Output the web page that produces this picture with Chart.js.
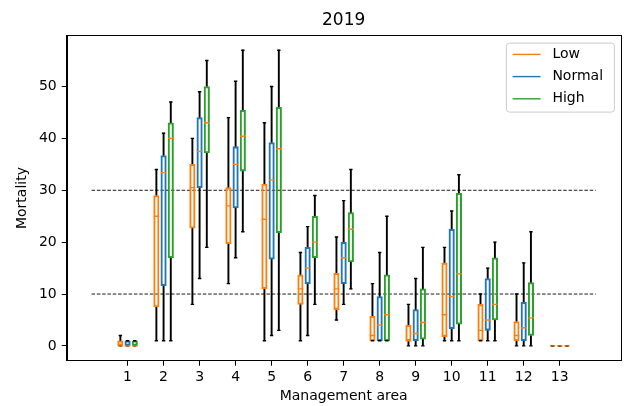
<!DOCTYPE html>
<html>
<head>
<meta charset="utf-8">
<title>2019</title>
<script src="https://cdn.jsdelivr.net/npm/chart.js@4.4.1/dist/chart.umd.min.js"></script>
<style>
  html, body { margin: 0; padding: 0; background: #fff; }
  #wrap { width: 626px; height: 406px; position: relative; }
</style>
</head>
<body>
<div id="wrap"><canvas id="chart"></canvas></div>
<script>
// Management areas (x categories) and y tick labels
const areas = [1, 2, 3, 4, 5, 6, 7, 8, 9, 10, 11, 12, 13];
const yTicks = [0, 10, 20, 30, 40, 50];
const refLines = [10, 30];

// Low
const lowMin = [0, 1, 8, 12, 1, 1, 5, 1, 0, 1, 1, 0, 0];
const lowQ1  = [0, 7.5, 22.7, 19.7, 11, 8, 7, 1, 1, 1.8, 1, 1, 0];
const lowMed = [0, 25, 30.5, 27, 24.4, 11, 11, 2, 1, 6, 3, 2, 0];
const lowQ3  = [1, 29, 35, 30.5, 31.2, 13.7, 14, 5.7, 4, 16, 8, 4.7, 0];
const lowMax = [2, 34, 40, 44, 43, 18, 21, 12, 8, 19, 10, 10, 0];

// Normal
const normalMin = [0, 1, 13, 17, 2, 2, 8, 1, 0, 1, 1, 0, 0];
const normalQ1  = [0, 11.6, 30.5, 26.6, 16.7, 12, 12, 1, 1, 3.3, 3, 1, 0];
const normalMed = [0, 33.4, 37.5, 35, 32, 15, 17, 4, 2.4, 9.5, 5, 3.5, 0];
const normalQ3  = [1, 36.7, 44, 38.4, 39.2, 19, 20, 9.5, 7, 22.5, 13, 8.4, 0];
const normalMax = [1, 41, 49, 51, 50, 23, 28, 18, 13, 26, 15, 16, 0];

// High
const highMin = [0, 1, 19, 22, 3, 8, 11, 1, 0, 1, 1, 0, 0];
const highQ1  = [0, 17, 37.2, 33.7, 21.8, 17, 16.2, 1, 1.3, 4.2, 5, 2, 0];
const highMed = [0, 40, 43, 40.4, 38, 20, 22.5, 6, 4.5, 13.9, 8, 5.4, 0];
const highQ3  = [1, 43, 50, 45.4, 46, 25, 25.7, 13.7, 11, 29.4, 17, 12.2, 0];
const highMax = [1, 47, 55, 57, 57, 29, 34, 25, 19, 33, 20, 22, 0];

const seriesNames = ['Low', 'Normal', 'High'];
const seriesColors = ['#ff7f0e', '#1f77b4', '#2ca02c'];
const medianColor = '#ff7f0e';

const series = [
    { min: lowMin, q1: lowQ1, med: lowMed, q3: lowQ3, max: lowMax, off: -0.2 },
    { min: normalMin, q1: normalQ1, med: normalMed, q3: normalQ3, max: normalMax, off: 0 },
    { min: highMin, q1: highQ1, med: highMed, q3: highQ3, max: highMax, off: 0.2 }
];

// Build datasets
const datasets = [];

// dashed reference lines
refLines.forEach(v => {
    datasets.push({
        type: 'line',
        data: [{ x: 0, y: v }, { x: 14, y: v }],
        borderColor: '#000',
        borderWidth: 0.9,
        borderDash: [3.5, 1.8],
        pointRadius: 0,
        order: 5
    });
});

series.forEach((s, k) => {
    // whiskers
    const whiskers = [];
    areas.forEach((a, i) => {
        whiskers.push({ x: a + s.off, y: [s.min[i], s.q1[i]] });
        whiskers.push({ x: a + s.off, y: [s.q3[i], s.max[i]] });
    });
    datasets.push({
        type: 'bar',
        data: whiskers,
        backgroundColor: '#000',
        borderWidth: 0,
        barThickness: 1.25,
        grouped: false,
        order: 4
    });

    // boxes
    datasets.push({
        type: 'bar',
        label: seriesNames[k],
        data: areas.map((a, i) => ({ x: a + s.off, y: [s.q1[i], s.q3[i]] })),
        backgroundColor: 'rgba(255,255,255,0)',
        borderColor: seriesColors[k],
        borderWidth: 1.4,
        borderSkipped: false,
        barThickness: 5.5,
        grouped: false,
        order: 3
    });

    // caps
    const caps = [];
    areas.forEach((a, i) => {
        caps.push({ x: a + s.off, y: s.min[i] });
        caps.push({ x: a + s.off, y: s.max[i] });
    });
    datasets.push({
        type: 'line',
        data: caps,
        showLine: false,
        pointStyle: 'line',
        pointRadius: 1.7,
        pointBorderColor: '#000',
        pointBorderWidth: 1.4,
        order: 2
    });

    // medians
    datasets.push({
        type: 'line',
        data: areas.map((a, i) => ({ x: a + s.off, y: s.med[i] })),
        showLine: false,
        pointStyle: 'line',
        pointRadius: 2.75,
        pointBorderColor: medianColor,
        pointBorderWidth: 1.4,
        order: 1
    });
});

// Frame round the plot area (top and right spines)
const frame = {
    id: 'frame',
    afterDraw(chart) {
        const { ctx, chartArea } = chart;
        ctx.save();
        ctx.strokeStyle = '#000';
        ctx.lineWidth = 1;
        ctx.strokeRect(Math.round(chartArea.left) + 0.5, Math.round(chartArea.top) + 0.5,
            Math.round(chartArea.right - chartArea.left), Math.round(chartArea.bottom - chartArea.top));
        ctx.restore();
    }
};

// Legend box in the upper right corner
const legendBox = {
    id: 'legendBox',
    afterDraw(chart) {
        const { ctx, chartArea } = chart;
        const w = 108, h = 69, rowH = 22.2;
        const x0 = chartArea.right - 6.2 - w;
        const y0 = chartArea.top + 7.7;
        ctx.save();
        ctx.beginPath();
        if (ctx.roundRect) ctx.roundRect(x0, y0, w, h, 3);
        else ctx.rect(x0, y0, w, h);
        ctx.fillStyle = 'rgba(255,255,255,0.8)';
        ctx.fill();
        ctx.strokeStyle = '#cccccc';
        ctx.lineWidth = 1;
        ctx.stroke();
        ctx.font = '14px "DejaVu Sans"';
        ctx.textAlign = 'left';
        ctx.textBaseline = 'middle';
        seriesNames.forEach((name, i) => {
            const y = y0 + 11.3 + i * rowH;
            ctx.beginPath();
            ctx.moveTo(x0 + 6.2, y);
            ctx.lineTo(x0 + 34.2, y);
            ctx.strokeStyle = seriesColors[i];
            ctx.lineWidth = 1.4;
            ctx.stroke();
            ctx.fillStyle = '#000';
            ctx.fillText(name, x0 + 46, y);
        });
        ctx.restore();
    }
};

Chart.defaults.font.family = '"DejaVu Sans", sans-serif';
Chart.defaults.font.size = 14;
Chart.defaults.color = '#000';

new Chart(document.getElementById('chart'), {
    type: 'bar',
    data: { datasets: datasets },
    options: {
        responsive: true,
        maintainAspectRatio: false,
        animation: false,
        events: [],
        layout: { padding: { left: 0, right: 2.5, top: 0, bottom: 0 } },
        plugins: {
            legend: { display: false },
            tooltip: { enabled: false },
            title: {
                display: true,
                text: '2019',
                fullSize: false,
                font: { size: 17, weight: 'normal' },
                color: '#000',
                padding: { top: 10, bottom: 5 }
            }
        },
        scales: {
            x: {
                type: 'linear',
                min: -0.69,
                max: 14.69,
                offset: false,
                afterBuildTicks: scale => { scale.ticks = areas.map(v => ({ value: v })); },
                afterFit: scale => { scale.height = 45.3; },
                ticks: { padding: 3, maxRotation: 0, autoSkip: false },
                grid: { offset: false, drawOnChartArea: false, drawTicks: true, tickLength: 5, tickColor: '#000', tickWidth: 1 },
                border: { color: '#000', width: 1 },
                title: { display: true, text: 'Management area', padding: { top: 0, bottom: 1 } }
            },
            y: {
                type: 'linear',
                min: -2.85,
                max: 59.85,
                afterBuildTicks: scale => { scale.ticks = yTicks.map(v => ({ value: v })); },
                afterFit: scale => { scale.width = 66.7; },
                ticks: { padding: 5 },
                grid: { offset: false, drawOnChartArea: false, drawTicks: true, tickLength: 5, tickColor: '#000', tickWidth: 1 },
                border: { color: '#000', width: 1 },
                title: { display: true, text: 'Mortality', padding: { top: 14, bottom: 0 } }
            }
        }
    },
    plugins: [frame, legendBox]
});
</script>
</body>
</html>
